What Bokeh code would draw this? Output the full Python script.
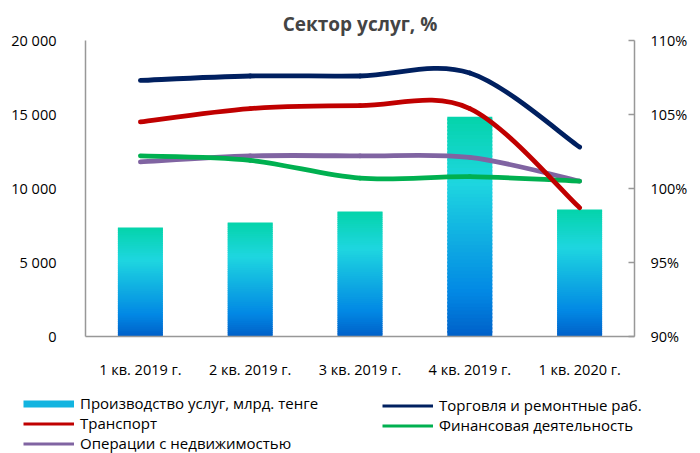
from bokeh.plotting import figure
from bokeh.layouts import column
from bokeh.models import (Range1d, LinearAxis, FixedTicker, Legend, LegendItem, Title)
from bokeh.embed import file_html
from bokeh.resources import INLINE

categories = ["1 кв. 2019 г.", "2 кв. 2019 г.", "3 кв. 2019 г.", "4 кв. 2019 г.", "1 кв. 2020 г."]
production = [7360, 7700, 8450, 14850, 8580]          # млрд. тенге
trade = [107.3, 107.6, 107.6, 107.8, 102.8]           # %
transport = [104.5, 105.4, 105.6, 105.4, 98.7]
finance = [102.2, 101.9, 100.7, 100.8, 100.5]
realestate = [101.8, 102.2, 102.2, 102.1, 100.5]

left_ticks = [0, 5000, 10000, 15000, 20000]
left_labels = ["0", "5 000", "10 000", "15 000", "20 000"]
right_ticks = [90, 95, 100, 105, 110]
right_labels = ["90%", "95%", "100%", "105%", "110%"]

FONT = "Open Sans"
FS = "14.5px"
LFS = "15px"

p = figure(width=700, height=390, output_backend="svg", toolbar_location=None,
           x_range=Range1d(0.5, 5.5), y_range=Range1d(0, 20000),
           min_border_left=85, min_border_right=66, min_border_top=40, min_border_bottom=54)
p.extra_y_ranges = {"pct": Range1d(90, 110)}
p.outline_line_color = None
p.grid.visible = False

p.title = Title(text="Сектор услуг, %", align="center", text_font=FONT,
                text_font_size="19px", text_font_style="bold", standoff=7)

# axes
ax = p.xaxis[0]
ax.ticker = FixedTicker(ticks=[1, 2, 3, 4, 5])
ax.major_label_overrides = {i + 1: c for i, c in enumerate(categories)}
ay = p.yaxis[0]
ay.ticker = FixedTicker(ticks=left_ticks)
ay.major_label_overrides = {t: l for t, l in zip(left_ticks, left_labels)}
for a in (ax, ay):
    a.major_tick_line_color = None
    a.minor_tick_line_color = None
    a.axis_line_color = "#989898"
    a.axis_line_width = 1.5
    a.major_label_text_font = FONT
    a.major_label_text_font_size = FS
    a.major_label_text_color = "black"
ax.major_label_standoff = 17
ay.major_label_standoff = 23

ry = LinearAxis(y_range_name="pct", ticker=FixedTicker(ticks=right_ticks))
ry.major_label_overrides = {t: l for t, l in zip(right_ticks, right_labels)}
ry.major_tick_in = 6
ry.major_tick_out = 0
ry.major_tick_line_color = "#989898"
ry.major_tick_line_width = 1.5
ry.minor_tick_line_color = None
ry.axis_line_color = "#989898"
ry.axis_line_width = 1.5
ry.major_label_text_font = FONT
ry.major_label_text_font_size = FS
ry.major_label_text_color = "black"
ry.major_label_standoff = 16
p.add_layout(ry, "right")

# gradient bars built from stacked slices
stops = [(0.0, (4, 212, 170)), (0.3, (30, 214, 224)), (0.8, (2, 136, 228)), (1.0, (0, 96, 200))]

def grad(t):
    for (t0, c0), (t1, c1) in zip(stops[:-1], stops[1:]):
        if t <= t1:
            f = (t - t0) / (t1 - t0)
            return "#%02x%02x%02x" % tuple(int(round(a + (b - a) * f)) for a, b in zip(c0, c1))
    return "#%02x%02x%02x" % stops[-1][1]

N = 60
xs, bots, tops, cols = [], [], [], []
for i, v in enumerate(production):
    for k in range(N):
        xs.append(i + 1)
        bots.append(v * k / N)
        tops.append(min(v, v * (k + 1.5) / N))
        cols.append(grad(1 - (k + 0.5) / N))
p.vbar(x=xs, bottom=bots, top=tops, width=0.41, fill_color=cols, line_color=None)

# smooth lines (Catmull-Rom style Bezier, as Excel smoothing)
def smooth(ys, color):
    n = len(ys)
    X = [i + 1 for i in range(n)]
    P = list(zip(X, ys))
    x0, y0, x1, y1, cx0, cy0, cx1, cy1 = [], [], [], [], [], [], [], []
    for i in range(n - 1):
        pm = P[max(i - 1, 0)]
        p0 = P[i]
        p1 = P[i + 1]
        p2 = P[min(i + 2, n - 1)]
        x0.append(p0[0]); y0.append(p0[1]); x1.append(p1[0]); y1.append(p1[1])
        cx0.append(p0[0] + (p1[0] - pm[0]) / 6); cy0.append(p0[1] + (p1[1] - pm[1]) / 6)
        cx1.append(p1[0] - (p2[0] - p0[0]) / 6); cy1.append(p1[1] - (p2[1] - p0[1]) / 6)
    p.bezier(x0=x0, y0=y0, x1=x1, y1=y1, cx0=cx0, cy0=cy0, cx1=cx1, cy1=cy1,
             line_color=color, line_width=4.8, line_cap="round", y_range_name="pct")

C_TRADE, C_TRANS, C_FIN, C_RE = "#002060", "#C00000", "#00B050", "#8064A2"
smooth(realestate, C_RE)
smooth(finance, C_FIN)
smooth(transport, C_TRANS)
smooth(trade, C_TRADE)

# legend in its own strip below the chart
lf = figure(width=700, height=63, output_backend="svg", toolbar_location=None,
            x_range=Range1d(0, 1), y_range=Range1d(0, 1), x_axis_type=None, y_axis_type=None,
            min_border_left=0, min_border_right=0, min_border_top=0, min_border_bottom=0)
lf.frame_align = False
lf.outline_line_color = None
lf.grid.visible = False

far = [5, 6]
lg_bar = lf.line(x=far, y=far, line_color="#12B4E0", line_width=7)
lg_trade = lf.line(x=far, y=far, line_color=C_TRADE, line_width=3)
lg_trans = lf.line(x=far, y=far, line_color=C_TRANS, line_width=3)
lg_fin = lf.line(x=far, y=far, line_color=C_FIN, line_width=3)
lg_re = lf.line(x=far, y=far, line_color=C_RE, line_width=3)

def mk_legend(items, loc):
    lg = Legend(items=items, location=loc, orientation="vertical",
                border_line_alpha=0, background_fill_alpha=0, padding=0, margin=0,
                spacing=0, glyph_width=51, glyph_height=19, label_height=19,
                label_standoff=6, label_text_font=FONT, label_text_font_size=LFS,
                label_text_color="black")
    lf.add_layout(lg, "center")

mk_legend([LegendItem(label="Производство услуг, млрд. тенге", renderers=[lg_bar]),
           LegendItem(label="Транспорт", renderers=[lg_trans]),
           LegendItem(label="Операции с недвижимостью", renderers=[lg_re])], (23, 0))
mk_legend([LegendItem(label="Торговля и ремонтные раб.", renderers=[lg_trade]),
           LegendItem(label="Финансовая деятельность", renderers=[lg_fin])], (382, 18))

layout = column(p, lf, spacing=0)
open("out.html", "w").write(file_html(layout, INLINE))
